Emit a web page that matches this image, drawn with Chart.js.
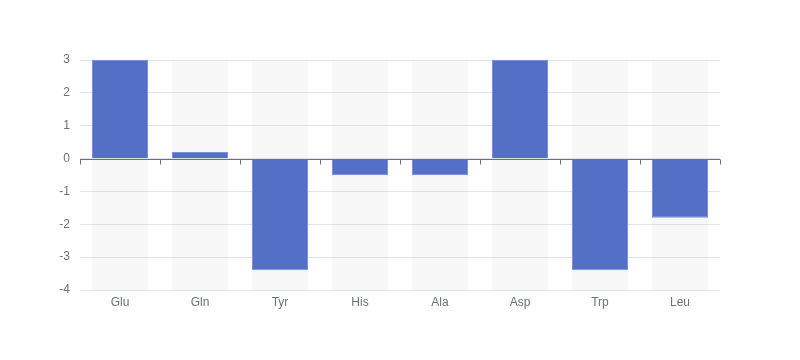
<!DOCTYPE html>
<html>
<head>
<meta charset="utf-8">
<script src="https://cdn.jsdelivr.net/npm/chart.js@4"></script>
<style>
  html, body { margin: 0; padding: 0; background: #fff; }
  #wrap { width: 800px; height: 360px; }
</style>
</head>
<body>
<div id="wrap"><canvas id="aminoChart"></canvas></div>
<script>
// amino acid values
const labels = ["Glu", "Gln", "Tyr", "His", "Ala", "Asp", "Trp", "Leu"];
const values = [3, 0.2, -3.4, -0.5, -0.5, 3, -3.4, -1.8];
const yMin = -4;
const yMax = 3;

// background column for every category (full axis range)
const bgRange = labels.map(() => [yMin, yMax]);

// draws the x axis line on zero, with ticks between categories
const zeroAxisPlugin = {
  id: "zeroAxis",
  afterDatasetsDraw(chart) {
    const { ctx, scales: { x, y }, chartArea } = chart;
    const y0 = Math.round(y.getPixelForValue(0)) + 0.5;
    ctx.save();
    ctx.strokeStyle = "#6e7079";
    ctx.lineWidth = 1;
    ctx.beginPath();
    ctx.moveTo(chartArea.left, y0);
    ctx.lineTo(chartArea.right, y0);
    const step = (chartArea.right - chartArea.left) / labels.length;
    for (let i = 0; i <= labels.length; i++) {
      const px = Math.round(chartArea.left + step * i) + 0.5;
      ctx.moveTo(px, y0);
      ctx.lineTo(px, y0 + 5);
    }
    ctx.stroke();
    ctx.restore();
  }
};

const ctx = document.getElementById("aminoChart").getContext("2d");

new Chart(ctx, {
  type: "bar",
  data: {
    labels,
    datasets: [
      {
        label: "value",
        data: values,
        backgroundColor: "#5470c6",
        borderColor: "#7b92d6",
        borderWidth: 1,
        categoryPercentage: 1,
        barPercentage: 0.7,
        grouped: false,
        order: 1
      },
      {
        label: "bg",
        data: bgRange,
        backgroundColor: "rgba(180,180,180,0.1)",
        borderWidth: 0,
        categoryPercentage: 1,
        barPercentage: 0.7,
        grouped: false,
        order: 2
      }
    ]
  },
  options: {
    responsive: true,
    maintainAspectRatio: false,
    animation: false,
    layout: { padding: { top: 60, right: 80, bottom: 0, left: 0 } },
    plugins: {
      legend: { display: false },
      tooltip: { enabled: false }
    },
    scales: {
      x: {
        grid: { display: false, drawTicks: false },
        border: { display: false },
        ticks: {
          color: "#6e7079",
          font: { size: 12, family: "sans-serif" },
          padding: 5
        },
        afterFit(scale) { scale.height = 70; }
      },
      y: {
        min: yMin,
        max: yMax,
        grid: { color: "#e0e6f1", drawTicks: false },
        border: { display: false },
        ticks: {
          stepSize: 1,
          color: "#6e7079",
          font: { size: 12, family: "sans-serif" },
          padding: 10
        },
        afterFit(scale) { scale.width = 80; }
      }
    }
  },
  plugins: [zeroAxisPlugin]
});
</script>
</body>
</html>
